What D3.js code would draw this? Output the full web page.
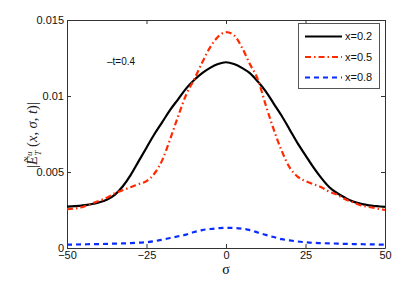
<!DOCTYPE html>
<html>
<head>
<meta charset="utf-8">
<script src="https://cdn.jsdelivr.net/npm/d3@7"></script>
<style>
  body { margin: 0; background: #fff; }
  text { font-family: "Liberation Sans", Arial, sans-serif; }
</style>
</head>
<body>
<div id="chart"></div>
<script>
// sigma values (step 2.5)
var sigma = d3.range(-50, 50.01, 2.5);

var x02 = [0.00272, 0.00275, 0.00280, 0.00288, 0.00300, 0.00318, 0.00350, 0.00405, 0.00480, 0.00570,
  0.00660, 0.00750, 0.00830, 0.00910, 0.00980, 0.01050, 0.01105, 0.01150, 0.01185, 0.01210, 0.01222,
  0.01210, 0.01185, 0.01150, 0.01095, 0.01030, 0.00950, 0.00870, 0.00780, 0.00690, 0.00610,
  0.00530, 0.00460, 0.00400, 0.00360, 0.00330, 0.00305, 0.00290, 0.00280, 0.00275, 0.00270];

var x05 = [0.00255, 0.00260, 0.00270, 0.00290, 0.00310, 0.00330, 0.00360, 0.00380, 0.00400, 0.00420,
  0.00440, 0.00490, 0.00580, 0.00720, 0.00870, 0.01010, 0.01110, 0.01220, 0.01320, 0.01390, 0.01420,
  0.01400, 0.01320, 0.01210, 0.01110, 0.00940, 0.00780, 0.00640, 0.00530, 0.00470, 0.00440,
  0.00420, 0.00400, 0.00370, 0.00350, 0.00320, 0.00300, 0.00280, 0.00270, 0.00260, 0.00250];

var x08 = [0.00022, 0.00023, 0.00024, 0.00025, 0.00026, 0.00027, 0.00029, 0.00030, 0.00032, 0.00035,
  0.00038, 0.00045, 0.00055, 0.00066, 0.00077, 0.00088, 0.00105, 0.00118, 0.00125, 0.00130, 0.00133,
  0.00132, 0.00127, 0.00118, 0.00102, 0.00086, 0.00072, 0.00058, 0.00050, 0.00043, 0.00038,
  0.00034, 0.00032, 0.00030, 0.00029, 0.00027, 0.00026, 0.00025, 0.00024, 0.00023, 0.00022];

var xTicks = [-50, -25, 0, 25, 50];
var yTicks = [0, 0.005, 0.01, 0.015];
var seriesNames = ["x=0.2", "x=0.5", "x=0.8"];

var width = 409, height = 281;
var margin = { left: 67, right: 24, top: 20, bottom: 33 };

var svg = d3.select("#chart").append("svg")
  .attr("width", width)
  .attr("height", height);

var xScale = d3.scaleLinear().domain([-50, 50]).range([margin.left, width - margin.right]);
var yScale = d3.scaleLinear().domain([0, 0.015]).range([height - margin.bottom, margin.top]);

var series = [
  { name: seriesNames[0], values: x02, color: "#000000", dash: null, w: 2.2 },
  { name: seriesNames[1], values: x05, color: "#ff2a00", dash: "6,3,1.5,3", w: 2.2 },
  { name: seriesNames[2], values: x08, color: "#0a2cff", dash: "5,4", w: 2.2 }
];

// axes with inward ticks
var axisColor = "#333";
var fmtY = function(d) { return d === 0 ? "0" : String(d); };

var gx = svg.append("g").attr("transform", "translate(0," + yScale(0) + ")")
  .call(d3.axisBottom(xScale).tickValues(xTicks).tickSizeInner(-4).tickSizeOuter(0).tickPadding(3));
var gxTop = svg.append("g").attr("transform", "translate(0," + margin.top + ")")
  .call(d3.axisTop(xScale).tickValues(xTicks).tickSizeInner(-4).tickSizeOuter(0).tickFormat(""));
var gy = svg.append("g").attr("transform", "translate(" + margin.left + ",0)")
  .call(d3.axisLeft(yScale).tickValues(yTicks).tickSizeInner(-4).tickSizeOuter(0).tickPadding(3).tickFormat(fmtY));
var gyRight = svg.append("g").attr("transform", "translate(" + (width - margin.right) + ",0)")
  .call(d3.axisRight(yScale).tickValues(yTicks).tickSizeInner(-4).tickSizeOuter(0).tickFormat(""));

[gx, gxTop, gy, gyRight].forEach(function(g) {
  g.select(".domain").attr("stroke", axisColor).attr("stroke-width", 1);
  g.selectAll(".tick line").attr("stroke", axisColor);
  g.selectAll(".tick text").attr("fill", "#111").style("font-size", "11px")
    .style("font-family", "'Liberation Sans', Arial, sans-serif");
});

// lines
var line = d3.line()
  .x(function(d, i) { return xScale(sigma[i]); })
  .y(function(d) { return yScale(d); })
  .curve(d3.curveMonotoneX);

svg.selectAll(".series")
  .data(series)
  .enter().append("path")
    .attr("class", "series")
    .attr("fill", "none")
    .attr("stroke", function(d) { return d.color; })
    .attr("stroke-width", function(d) { return d.w; })
    .attr("stroke-dasharray", function(d) { return d.dash; })
    .attr("d", function(d) { return line(d.values); });

// legend
var legend = svg.append("g");
legend.append("rect")
  .attr("x", 298.5).attr("y", 23.5).attr("width", 81).attr("height", 65)
  .attr("fill", "#fff").attr("stroke", "#555").attr("stroke-width", 1);

var legRows = legend.selectAll(".leg")
  .data(series)
  .enter().append("g")
    .attr("class", "leg")
    .attr("transform", function(d, i) { return "translate(0," + (36.5 + i * 20.5) + ")"; });

legRows.append("line")
  .attr("x1", 305).attr("x2", 342)
  .attr("stroke", function(d) { return d.color; })
  .attr("stroke-width", function(d) { return d.w; })
  .attr("stroke-dasharray", function(d) { return d.dash; });

legRows.append("text")
  .attr("x", 345).attr("dy", "0.35em")
  .style("font-size", "11px")
  .attr("fill", "#111")
  .text(function(d) { return d.name; });

// annotation
svg.append("text")
  .attr("x", 107).attr("y", 65)
  .style("font-size", "10px")
  .attr("fill", "#111")
  .text("\u2013t=0.4");

// x label
svg.append("text")
  .attr("x", xScale(0)).attr("y", 274)
  .attr("text-anchor", "middle")
  .style("font-family", "'Liberation Serif', 'DejaVu Serif', serif")
  .style("font-size", "14px")
  .text("\u03c3");

// y label
var ylab = svg.append("text")
  .attr("transform", "translate(37," + 135 + ") rotate(-90)")
  .attr("text-anchor", "middle")
  .style("font-family", "'Liberation Serif', 'DejaVu Serif', serif")
  .style("font-size", "14.5px")
  .attr("fill", "#222");
ylab.append("tspan").text("|");
ylab.append("tspan").style("font-style", "italic").text("\u1EBC");
ylab.append("tspan").attr("dy", -5).style("font-size", "9px").style("font-style", "italic").text("u");
ylab.append("tspan").attr("dx", -4).attr("dy", 9).style("font-size", "9px").style("font-style", "italic").text("T");
ylab.append("tspan").attr("dy", -4).text(" (");
ylab.append("tspan").style("font-style", "italic").text("x");
ylab.append("tspan").text(", ");
ylab.append("tspan").style("font-style", "italic").text("\u03c3");
ylab.append("tspan").text(", ");
ylab.append("tspan").style("font-style", "italic").text("t");
ylab.append("tspan").text(")|");
</script>
</body>
</html>
